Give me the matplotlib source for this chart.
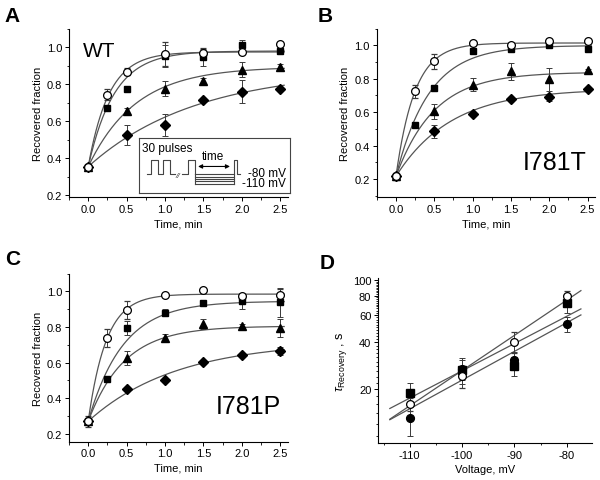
import numpy as np
import matplotlib
matplotlib.use("Agg")
import matplotlib.pyplot as plt
from matplotlib.ticker import MultipleLocator, FixedLocator, NullFormatter

plt.rcParams['font.family'] = ['Liberation Sans', 'DejaVu Sans']
plt.rcParams['mathtext.fontset'] = 'custom'
plt.rcParams['mathtext.rm'] = 'Liberation Sans'
plt.rcParams['mathtext.it'] = 'Liberation Sans:italic'
plt.rcParams['axes.unicode_minus'] = False

# ---- data (recovered fraction vs time, min) ----
t = [0.0, 0.25, 0.5, 1.0, 1.5, 2.0, 2.5]
t4 = [0.0, 0.5, 1.0, 1.5, 2.0, 2.5]

# panel A, WT
a_circ = [0.355, 0.744, 0.869, 0.966, 0.969, 0.973, 1.018]
a_circ_err = [0.01, 0.03, 0.02, 0.065, 0.03, 0.01, 0.01]
a_sq = [0.355, 0.672, 0.776, 0.955, 0.946, 1.012, 0.982]
a_sq_err = [0.0, 0.01, 0.01, 0.06, 0.045, 0.025, 0.02]
a_tri = [0.355, 0.654, 0.776, 0.82, 0.88, 0.892]
a_tri_err = [0.0, 0.02, 0.04, 0.015, 0.04, 0.02]
a_dia = [0.355, 0.525, 0.582, 0.717, 0.761, 0.776]
a_dia_err = [0.0, 0.055, 0.06, 0.01, 0.06, 0.01]

# panel B, I781T
b_circ = [0.215, 0.724, 0.904, 1.016, 1.004, 1.028, 1.024]
b_circ_err = [0.02, 0.04, 0.045, 0.01, 0.01, 0.01, 0.01]
b_sq = [0.215, 0.52, 0.744, 0.966, 0.98, 1.0, 0.976]
b_sq_err = [0.0, 0.01, 0.01, 0.01, 0.01, 0.01, 0.01]
b_tri = [0.215, 0.606, 0.764, 0.844, 0.796, 0.85]
b_tri_err = [0.0, 0.045, 0.04, 0.05, 0.07, 0.01]
b_dia = [0.215, 0.484, 0.59, 0.68, 0.688, 0.736]
b_dia_err = [0.0, 0.04, 0.01, 0.01, 0.02, 0.01]

# panel C, I781P
c_circ = [0.27, 0.74, 0.896, 0.981, 1.009, 0.977, 0.981]
c_circ_err = [0.03, 0.05, 0.05, 0.01, 0.01, 0.01, 0.03]
c_sq = [0.27, 0.507, 0.793, 0.881, 0.934, 0.944, 0.938]
c_sq_err = [0.0, 0.01, 0.04, 0.02, 0.01, 0.04, 0.08]
c_tri = [0.27, 0.627, 0.74, 0.816, 0.808, 0.793]
c_tri_err = [0.0, 0.04, 0.02, 0.03, 0.01, 0.05]
c_dia = [0.27, 0.454, 0.501, 0.605, 0.642, 0.665]
c_dia_err = [0.0, 0.01, 0.01, 0.01, 0.01, 0.02]

# exponential fits: (start, plateau, tau in min) for circle, square, triangle, diamond
a_fits = [(0.355, 0.975, 0.27), (0.355, 0.98, 0.34), (0.355, 0.895, 0.62), (0.355, 0.88, 1.4)]
b_fits = [(0.215, 1.015, 0.245), (0.215, 1.0, 0.43), (0.215, 0.84, 0.5), (0.215, 0.74, 0.72)]
c_fits = [(0.27, 0.985, 0.234), (0.27, 0.945, 0.45), (0.27, 0.805, 0.47), (0.27, 0.72, 1.15)]

# panel D, tau recovery (s) vs voltage (mV)
volt = [-110, -100, -90, -80]
d_open = [16.0, 24.2, 40.3, 78.9]
d_open_err = [1.5, 4.0, 6.0, 7.0]
d_sq = [19.0, 26.5, 28.3, 71.8]
d_sq_err = [3.0, 5.0, 4.0, 10.0]
d_fill = [13.0, 26.8, 30.8, 52.6]
d_fill_err = [3.0, 4.0, 4.0, 6.0]
# log-linear fits: tau at -113.8 mV and at -77.3 mV
d_fit_v = [-113.8, -77.3]
d_fit_open = [12.8, 86.0]
d_fit_sq = [15.0, 65.6]
d_fit_fill = [12.7, 60.0]

line_c = '#555555'
err_c = '#3a3a3a'
fs = 8

fig = plt.figure(figsize=(6.0, 4.81), dpi=100)


def style_axes(ax):
    ax.spines['top'].set_visible(False)
    ax.spines['right'].set_visible(False)
    ax.tick_params(direction='out', labelsize=fs, length=3, width=0.7, pad=2)
    ax.tick_params(which='minor', direction='out', length=1.8, width=0.6)
    for s in ('left', 'bottom'):
        ax.spines[s].set_linewidth(0.8)


def recovery_panel(rect, series, fits, ylim, yticks):
    ax = fig.add_axes(rect)
    tt = np.linspace(0, 2.55, 200)
    for (y0, yinf, tau) in fits:
        ax.plot(tt, yinf - (yinf - y0) * np.exp(-tt / tau), color=line_c, lw=0.9, zorder=1)
    circ, circ_e, sq, sq_e, tri, tri_e, dia, dia_e = series
    kw = dict(ls='none', ecolor=err_c, elinewidth=0.7, capsize=2, capthick=0.7, zorder=2)
    ax.errorbar(t4, dia, yerr=dia_e, marker='D', ms=5, mfc='k', mec='k', **kw)
    ax.errorbar(t4, tri, yerr=tri_e, marker='^', ms=6, mfc='k', mec='k', **kw)
    ax.errorbar(t, sq, yerr=sq_e, marker='s', ms=5, mfc='k', mec='k', **kw)
    ax.errorbar(t, circ, yerr=circ_e, marker='o', ms=5.6, mfc='white', mec='k', mew=0.9, **kw)
    ax.set_xlim(-0.25, 2.6)
    ax.set_ylim(*ylim)
    ax.set_xticks([0.0, 0.5, 1.0, 1.5, 2.0, 2.5])
    ax.xaxis.set_minor_locator(MultipleLocator(0.25))
    ax.set_yticks(yticks)
    ax.yaxis.set_minor_locator(MultipleLocator(0.1))
    ax.xaxis.set_major_formatter(matplotlib.ticker.FormatStrFormatter('%.1f'))
    ax.yaxis.set_major_formatter(matplotlib.ticker.FormatStrFormatter('%.1f'))
    ax.set_xlabel('Time, min', fontsize=fs, labelpad=3)
    ax.set_ylabel('Recovered fraction', fontsize=fs, labelpad=3)
    style_axes(ax)
    return ax


axA = recovery_panel([0.115, 0.588, 0.365, 0.35],
                     [a_circ, a_circ_err, a_sq, a_sq_err, a_tri, a_tri_err, a_dia, a_dia_err],
                     a_fits, (0.19, 1.1), [0.2, 0.4, 0.6, 0.8, 1.0])
axA.text(0.064, 0.87, 'WT', transform=axA.transAxes, fontsize=15, va='center', ha='left')

axB = recovery_panel([0.628, 0.588, 0.364, 0.35],
                     [b_circ, b_circ_err, b_sq, b_sq_err, b_tri, b_tri_err, b_dia, b_dia_err],
                     b_fits, (0.09, 1.1), [0.2, 0.4, 0.6, 0.8, 1.0])
axB.text(0.96, 0.21, 'I781T', transform=axB.transAxes, fontsize=18, va='center', ha='right')

axC = recovery_panel([0.115, 0.08, 0.365, 0.349],
                     [c_circ, c_circ_err, c_sq, c_sq_err, c_tri, c_tri_err, c_dia, c_dia_err],
                     c_fits, (0.156, 1.1), [0.2, 0.4, 0.6, 0.8, 1.0])
axC.text(0.97, 0.21, 'I781P', transform=axC.transAxes, fontsize=18, va='center', ha='right')

# inset protocol in panel A
ins = axA.inset_axes([0.32, 0.024, 0.69, 0.33])
ins.set_xlim(0, 1)
ins.set_ylim(0, 1)
ins.set_xticks([])
ins.set_yticks([])
for s in ins.spines.values():
    s.set_linewidth(0.8)
    s.set_color('#444444')
pc = '#444444'
base, top = 0.34, 0.60
ins.plot([0.05, 0.079, 0.079, 0.123, 0.123, 0.16, 0.16, 0.204, 0.204, 0.237],
         [base, base, top, top, base, base, top, top, base, base], color=pc, lw=0.8)
ins.plot([0.281, 0.325, 0.325, 0.368, 0.368], [base, base, top, top, base], color=pc, lw=0.8)
for lev in [0.34, 0.293, 0.251, 0.21, 0.168]:
    ins.plot([0.368, 0.625], [lev, lev], color=pc, lw=0.8)
ins.plot([0.368, 0.368], [base, 0.168], color=pc, lw=0.8)
ins.plot([0.625, 0.625, 0.647, 0.647, 0.671], [0.168, top, top, base, base], color=pc, lw=0.8)
ins.text(0.259, base - 0.02, '//', fontsize=6, style='italic', ha='center', va='center', color=pc)
ins.annotate('', xy=(0.372, 0.48), xytext=(0.62, 0.48),
             arrowprops=dict(arrowstyle='<|-|>', color='k', lw=0.8, mutation_scale=6))
ins.text(0.49, 0.66, 'time', fontsize=8.5, ha='center', va='center')
ins.text(0.022, 0.81, '30 pulses', fontsize=8.5, ha='left', va='center')
ins.text(0.971, 0.37, '-80 mV', fontsize=8.5, ha='right', va='center')
ins.text(0.971, 0.175, '-110 mV', fontsize=8.5, ha='right', va='center')

# panel D
axD = fig.add_axes([0.6305, 0.077, 0.356, 0.342])
axD.set_yscale('log')
for fit in (d_fit_open, d_fit_sq, d_fit_fill):
    axD.plot(d_fit_v, fit, color=line_c, lw=0.9, zorder=1)
kw = dict(ls='none', ecolor=err_c, elinewidth=0.7, capsize=2, capthick=0.7, zorder=2)
axD.errorbar(volt, d_fill, yerr=d_fill_err, marker='o', ms=5.6, mfc='k', mec='k', **kw)
axD.errorbar(volt, d_sq, yerr=d_sq_err, marker='s', ms=5.3, mfc='k', mec='k', **kw)
axD.errorbar(volt, d_open, yerr=d_open_err, marker='o', ms=5.6, mfc='white', mec='k', mew=0.9, **kw)
axD.set_xlim(-116, -75.2)
axD.set_ylim(9, 103)
axD.set_xticks([-110, -100, -90, -80])
axD.xaxis.set_minor_locator(MultipleLocator(5))
axD.yaxis.set_major_locator(FixedLocator([20, 40, 60, 80, 100]))
axD.yaxis.set_major_formatter(matplotlib.ticker.FormatStrFormatter('%d'))
axD.yaxis.set_minor_locator(FixedLocator(list(range(10, 100, 2))))
axD.yaxis.set_minor_formatter(NullFormatter())
axD.set_xlabel('Voltage, mV', fontsize=fs, labelpad=3)
axD.set_ylabel(r'$\tau_{\mathrm{Recovery}}$ , s', fontsize=9, labelpad=3)
style_axes(axD)
axD.tick_params(which='minor', length=1.5)

# panel letters
for lbl, x, y in [('A', 0.008, 0.965), ('B', 0.53, 0.965), ('C', 0.008, 0.46), ('D', 0.533, 0.453)]:
    fig.text(x, y, lbl, fontsize=15, fontweight='bold', ha='left', va='center')

fig.savefig('out.png', dpi=100)
